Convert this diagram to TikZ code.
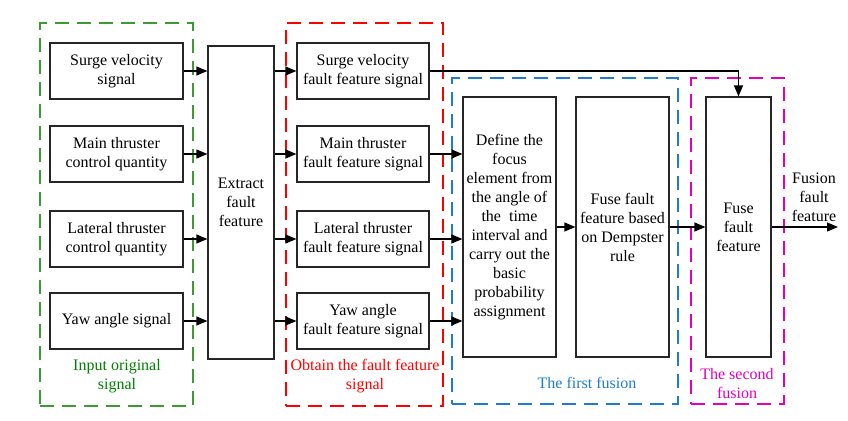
\documentclass[tikz,border=0pt]{standalone}
\usepackage{fontspec}
\setmainfont{Liberation Serif}
\usetikzlibrary{arrows.meta}
\definecolor{grpgreen}{RGB}{60,155,50}
\definecolor{txtgreen}{RGB}{0,128,0}
\definecolor{grpred}{RGB}{255,0,0}
\definecolor{grpblue}{RGB}{30,125,205}
\definecolor{grpmagenta}{RGB}{225,0,190}
\tikzset{
  box/.style={draw=black!85, line width=1.2pt, align=center, inner sep=0pt},
  grp/.style={draw=#1, line width=1.4pt, dash pattern=on 14pt off 8pt, inner sep=0pt},
  lbl/.style={align=center, inner sep=0pt},
  link/.style={line width=1.2pt, -{Triangle[length=11pt,width=9pt]}}
}
\begin{document}
\begin{tikzpicture}[x=1pt, y=-1pt, font=\fontsize{16}{19}\selectfont]
      \useasboundingbox (0,0) rectangle (848,420);
      % group frames
      \node[grp=grpgreen, minimum width=153, minimum height=383] (gin) at (116.5,214.5) {};
      \node[grp=grpred, minimum width=157, minimum height=383] (gob) at (364.5,214.5) {};
      \node[grp=grpblue, minimum width=226, minimum height=326] (gf1) at (565,241) {};
      \node[grp=grpmagenta, minimum width=93, minimum height=326] (gf2) at (737.5,241) {};
      % input signals
      \node[box, minimum width=133, minimum height=56] (s1) at (116.5,71) {Surge velocity\\signal};
      \node[box, minimum width=133, minimum height=56] (s2) at (116.5,154) {Main thruster\\control quantity};
      \node[box, minimum width=133, minimum height=56] (s3) at (116.5,239) {Lateral thruster\\control quantity};
      \node[box, minimum width=133, minimum height=56] (s4) at (116.5,321) {Yaw angle signal};
      \node[box, minimum width=66, minimum height=313] (ex) at (241,202.5) {Extract\\fault\\feature};
      % fault feature signals
      \node[box, minimum width=132, minimum height=56] (m1) at (363,71) {Surge velocity\\fault feature signal};
      \node[box, minimum width=132, minimum height=56] (m2) at (363,154) {Main thruster\\fault feature signal};
      \node[box, minimum width=132, minimum height=56] (m3) at (363,239) {Lateral thruster\\fault feature signal};
      \node[box, minimum width=132, minimum height=56] (m4) at (363,321) {Yaw angle\\fault feature signal};
      % fusion
      \node[box, minimum width=93, minimum height=260] (df) at (509.5,227) {Define the\\focus\\element from\\the angle of\\the \ time\\interval and\\carry out the\\basic\\probability\\assignment};
      \node[box, minimum width=93, minimum height=260] (fd) at (622.5,227) {Fuse fault\\feature based\\on Dempster\\rule};
      \node[box, minimum width=65, minimum height=260] (ff) at (738.5,227) {Fuse\\fault\\feature};
      \coordinate (out) at (838,227);
      % labels
      \node[lbl, text=txtgreen] (lin) at (117,376.5) {Input original\\signal};
      \node[lbl, text=grpred] (lob) at (365,376.5) {Obtain the fault feature\\signal};
      \node[lbl, text=grpblue] (lf1) at (587,383) {The first fusion};
      \node[lbl, text=grpmagenta] (lf2) at (737,383.5) {The second\\fusion};
      \node[lbl] (lout) at (814,197) {Fusion\\fault\\feature};
      % connectors
      \foreach \i in {1,...,4} {
        \draw[link] (s\i.east) -- (s\i.east -| ex.west);
        \draw[link] (m\i.east -| ex.east) -- (m\i.west);
      }
      \foreach \i in {2,3,4}
        \draw[link] (m\i.east) -- (m\i.east -| df.west);
      \draw[link] (m1.east) -| (ff.north);
      \draw[link] (df) -- (fd);
      \draw[link] (fd) -- (ff);
      \draw[link] (ff) -- (out);
    \end{tikzpicture}
\end{document}
